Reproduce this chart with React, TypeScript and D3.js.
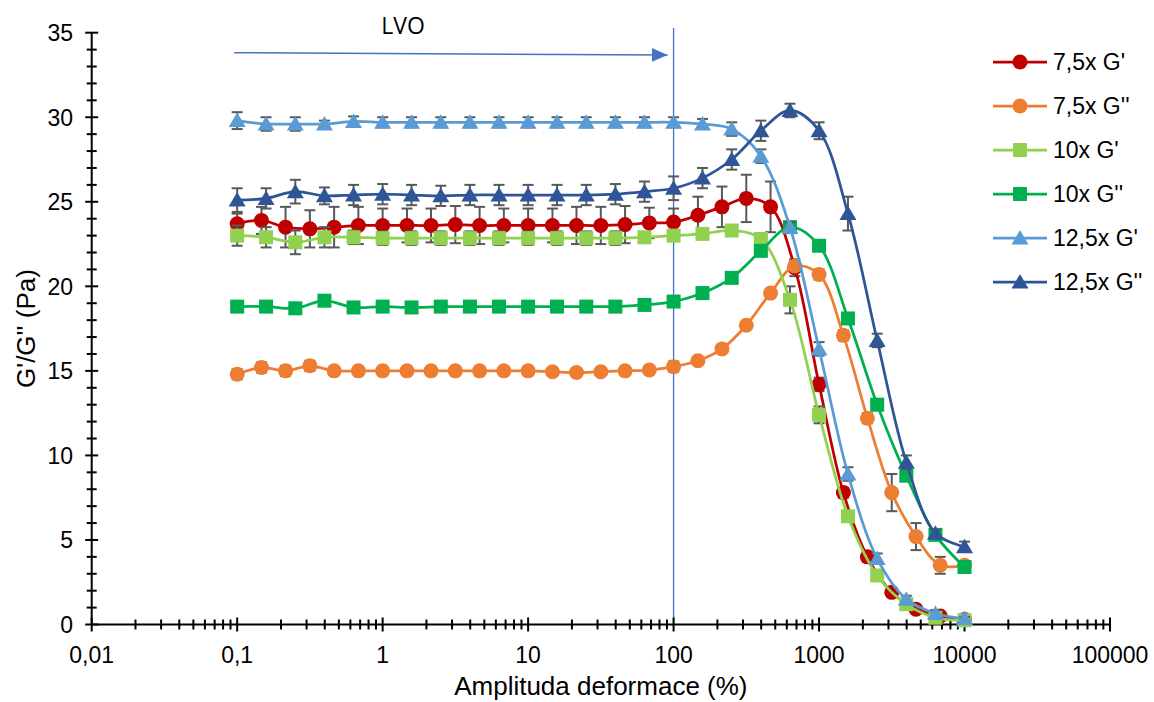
import React from 'react';
import * as d3 from 'd3';

// Strain amplitudes (%)
const strain75 = [0.1, 0.147, 0.215, 0.316, 0.464, 0.681, 1, 1.47, 2.15, 3.16, 4.64, 6.81, 10, 14.7, 21.5, 31.6, 46.4, 68.1, 100, 147, 215, 316, 464, 681, 1000, 1470, 2150, 3160, 4640, 6810, 10000];
const strainOther = [0.1, 0.158, 0.251, 0.398, 0.631, 1, 1.58, 2.51, 3.98, 6.31, 10, 15.8, 25.1, 39.8, 63.1, 100, 158, 251, 398, 631, 1000, 1580, 2510, 3980, 6310, 10000];

const g75p = [23.7, 23.9, 23.5, 23.4, 23.5, 23.6, 23.6, 23.6, 23.6, 23.65, 23.6, 23.6, 23.6, 23.6, 23.6, 23.6, 23.65, 23.75, 23.8, 24.2, 24.7, 25.2, 24.7, 21.1, 14.2, 7.8, 4.0, 1.9, 0.9, 0.5, 0.3];
const g75pErr = [0.6, 0.8, 1.2, 1.1, 1.2, 1.1, 1.0, 1.0, 1.0, 1.1, 1.1, 1.0, 1.0, 1.0, 1.1, 1.1, 1.1, 0.9, 0.8, 1.1, 1.2, 1.4, 1.5, 0.5, 0.4, 0.3, 0.3, 0.2, 0.2, 0.1, 0.1];
const g75pp = [14.8, 15.2, 15.0, 15.3, 15.0, 15.0, 15.0, 15.0, 15.0, 15.0, 15.0, 15.0, 15.0, 14.95, 14.9, 14.95, 15.0, 15.05, 15.25, 15.6, 16.3, 17.7, 19.6, 21.2, 20.7, 17.1, 12.2, 7.8, 5.2, 3.5, 3.5];
const g75ppErr = [0.3, 0.3, 0.3, 0.3, 0.2, 0.2, 0.2, 0.2, 0.2, 0.2, 0.2, 0.2, 0.2, 0.2, 0.2, 0.2, 0.2, 0.2, 0.3, 0.2, 0.2, 0.2, 0.2, 0.3, 0.3, 0.3, 0.3, 1.1, 0.8, 0.5, 0.1];
const g10p = [23.0, 22.9, 22.6, 22.9, 22.9, 22.85, 22.85, 22.85, 22.85, 22.85, 22.85, 22.85, 22.85, 22.85, 22.9, 23.0, 23.1, 23.3, 22.8, 19.2, 12.4, 6.4, 2.9, 1.2, 0.4, 0.25];
const g10pErr = [0.6, 0.6, 0.7, 0.6, 0.4, 0.4, 0.4, 0.4, 0.4, 0.4, 0.4, 0.4, 0.4, 0.4, 0.3, 0.3, 0.3, 0.3, 0.3, 0.8, 0.5, 0.3, 0.2, 0.2, 0.1, 0.1];
const g10pp = [18.8, 18.8, 18.7, 19.15, 18.75, 18.8, 18.75, 18.8, 18.8, 18.8, 18.8, 18.8, 18.8, 18.8, 18.9, 19.1, 19.6, 20.5, 22.1, 23.5, 22.4, 18.1, 13.0, 8.8, 5.3, 3.4];
const g10ppErr = [0.2, 0.2, 0.2, 0.2, 0.2, 0.2, 0.2, 0.2, 0.2, 0.2, 0.2, 0.2, 0.2, 0.2, 0.2, 0.2, 0.2, 0.2, 0.3, 0.3, 0.3, 0.3, 0.3, 0.3, 0.2, 0.2];
const g125p = [29.8, 29.6, 29.6, 29.6, 29.75, 29.7, 29.7, 29.7, 29.7, 29.7, 29.7, 29.7, 29.7, 29.7, 29.7, 29.7, 29.6, 29.3, 27.7, 23.5, 16.3, 8.9, 3.9, 1.5, 0.65, 0.35];
const g125pErr = [0.5, 0.4, 0.4, 0.2, 0.3, 0.3, 0.3, 0.3, 0.3, 0.3, 0.3, 0.3, 0.3, 0.3, 0.3, 0.3, 0.3, 0.4, 0.4, 0.3, 0.4, 0.4, 0.3, 0.2, 0.2, 0.1];
const g125pp = [25.1, 25.2, 25.6, 25.35, 25.4, 25.45, 25.4, 25.35, 25.4, 25.4, 25.4, 25.4, 25.4, 25.45, 25.6, 25.8, 26.4, 27.5, 29.2, 30.4, 29.2, 24.3, 16.8, 9.6, 5.4, 4.6];
const g125ppErr = [0.7, 0.6, 0.7, 0.5, 0.6, 0.6, 0.6, 0.6, 0.6, 0.6, 0.6, 0.6, 0.6, 0.6, 0.6, 0.7, 0.6, 0.6, 0.6, 0.4, 0.5, 1.0, 0.4, 0.4, 0.2, 0.3];

const seriesNames = ["7,5x G'", "7,5x G''", "10x G'", "10x G''", "12,5x G'", "12,5x G''"];
const seriesColors = ['#C00000', '#ED7D31', '#92D050', '#00B050', '#5B9BD5', '#2F5597'];
const seriesShapes = ['circle', 'circle', 'square', 'square', 'triangle', 'triangle'];

const yTickLabels = [0, 5, 10, 15, 20, 25, 30, 35];
const xTickValues = [0.01, 0.1, 1, 10, 100, 1000, 10000, 100000];
const xTickLabels = ['0,01', '0,1', '1', '10', '100', '1000', '10000', '100000'];

const series = [
  { x: strain75, y: g75p, e: g75pErr },
  { x: strain75, y: g75pp, e: g75ppErr },
  { x: strainOther, y: g10p, e: g10pErr },
  { x: strainOther, y: g10pp, e: g10ppErr },
  { x: strainOther, y: g125p, e: g125pErr },
  { x: strainOther, y: g125pp, e: g125ppErr },
].map((s, i) => ({ ...s, name: seriesNames[i], color: seriesColors[i], shape: seriesShapes[i] }));

const W = 1154;
const H = 702;
const FONT = '"Liberation Sans", Arial, sans-serif';

function Marker({ shape, cx, cy, color }: { shape: string; cx: number; cy: number; color: string }) {
  if (shape === 'circle') return <circle cx={cx} cy={cy} r={7.5} fill={color} />;
  if (shape === 'square') return <rect x={cx - 7} y={cy - 7} width={14} height={14} fill={color} />;
  const p = d3.path();
  p.moveTo(cx, cy - 8);
  p.lineTo(cx + 8.5, cy + 6.5);
  p.lineTo(cx - 8.5, cy + 6.5);
  p.closePath();
  return <path d={p.toString()} fill={color} />;
}

export default function App() {
  const x = d3.scaleLog().domain([0.01, 100000]).range([91.7, 1110]);
  const y = d3.scaleLinear().domain([0, 35]).range([624.5, 32.7]);

  const line = d3
    .line<[number, number]>()
    .x((d) => x(d[0]))
    .y((d) => y(d[1]))
    .curve(d3.curveCatmullRom.alpha(0.5));

  const minorX: number[] = [];
  for (let k = -2; k <= 4; k++) for (let m = 2; m <= 9; m++) minorX.push(m * Math.pow(10, k));
  const minorY = d3.range(0, 36, 1);

  const x0 = x(0.01);
  const y0 = y(0);
  const lvoX = x(100);

  const legendY = [62, 106, 150, 194, 238, 282];

  return (
    <svg width={W} height={H} style={{ position: 'absolute', left: 0, top: 0, background: '#fff' }} fontFamily={FONT}>
      <rect width={W} height={H} fill="#fff" />
      <defs>
        <marker id="arr" viewBox="0 0 16 14" refX={16} refY={7} markerWidth={16} markerHeight={14} markerUnits="userSpaceOnUse" orient="auto">
          <path d="M0,0 L16,7 L0,14 Z" fill="#4472C4" />
        </marker>
      </defs>

      {/* LVO annotation */}
      <line x1={lvoX} x2={lvoX} y1={28} y2={y0} stroke="#4472C4" strokeWidth={1.3} />
      <line x1={x(0.1) - 3} y1={52.7} x2={lvoX - 6} y2={55} stroke="#4472C4" strokeWidth={1.5} markerEnd="url(#arr)" />
      <text x={403} y={34} textAnchor="middle" fontSize={23} fontFamily='"Open Sans", sans-serif' fill="#000">LVO</text>

      {/* axes */}
      <line x1={x0} x2={x0} y1={y(35)} y2={y0} stroke="#000" strokeWidth={2} />
      <line x1={x0} x2={x(100000)} y1={y0} y2={y0} stroke="#000" strokeWidth={2} />
      {minorY.map((v) => (
        <line key={'my' + v} x1={x0 - (v % 5 === 0 ? 6.5 : 5)} x2={x0 + (v % 5 === 0 ? 6.5 : 5)} y1={y(v)} y2={y(v)} stroke="#000" strokeWidth={2} />
      ))}
      {minorX.map((v) => (
        <line key={'mx' + v} x1={x(v)} x2={x(v)} y1={y0 - 5} y2={y0 + 5} stroke="#000" strokeWidth={2} />
      ))}
      {xTickValues.map((v) => (
        <line key={'Mx' + v} x1={x(v)} x2={x(v)} y1={y0 - 7} y2={y0 + 7} stroke="#000" strokeWidth={2} />
      ))}
      {yTickLabels.map((v) => (
        <text key={'yl' + v} x={73} y={y(v) + 8.3} textAnchor="end" fontSize={23} fill="#000">{v}</text>
      ))}
      {xTickValues.map((v, i) => (
        <text key={'xl' + v} x={x(v)} y={662.5} textAnchor="middle" fontSize={23} fill="#000">{xTickLabels[i]}</text>
      ))}
      <text x={(x0 + x(100000)) / 2} y={695} textAnchor="middle" fontSize={26} fill="#000">Amplituda deformace (%)</text>
      <text transform={`translate(35, ${(y(0) + y(35)) / 2}) rotate(-90)`} textAnchor="middle" fontSize={26} fill="#000">G'/G'' (Pa)</text>

      {/* series */}
      {series.map((s, si) => {
        const pts: [number, number][] = s.x.map((xv, i) => [xv, s.y[i]]);
        return (
          <g key={'s' + si}>
            {pts.map((d, i) => {
              const cx = x(d[0]);
              const e = s.e[i];
              const yt = y(d[1] + e);
              const yb = y(Math.max(0, d[1] - e));
              return (
                <g key={'e' + i} stroke="#595959" strokeWidth={2}>
                  <line x1={cx} x2={cx} y1={yt} y2={yb} />
                  <line x1={cx - 5.5} x2={cx + 5.5} y1={yt} y2={yt} />
                  <line x1={cx - 5.5} x2={cx + 5.5} y1={yb} y2={yb} />
                </g>
              );
            })}
            <path d={line(pts) || ''} fill="none" stroke={s.color} strokeWidth={2.75} />
            {pts.map((d, i) => (
              <Marker key={'m' + i} shape={s.shape} cx={x(d[0])} cy={y(d[1])} color={s.color} />
            ))}
          </g>
        );
      })}

      {/* legend */}
      {series.map((s, i) => (
        <g key={'lg' + i}>
          <line x1={993} x2={1047} y1={legendY[i]} y2={legendY[i]} stroke={s.color} strokeWidth={2.75} />
          <Marker shape={s.shape} cx={1020} cy={legendY[i]} color={s.color} />
          <text x={1053} y={legendY[i] + 8.3} fontSize={23} fill="#000">{s.name}</text>
        </g>
      ))}
    </svg>
  );
}
